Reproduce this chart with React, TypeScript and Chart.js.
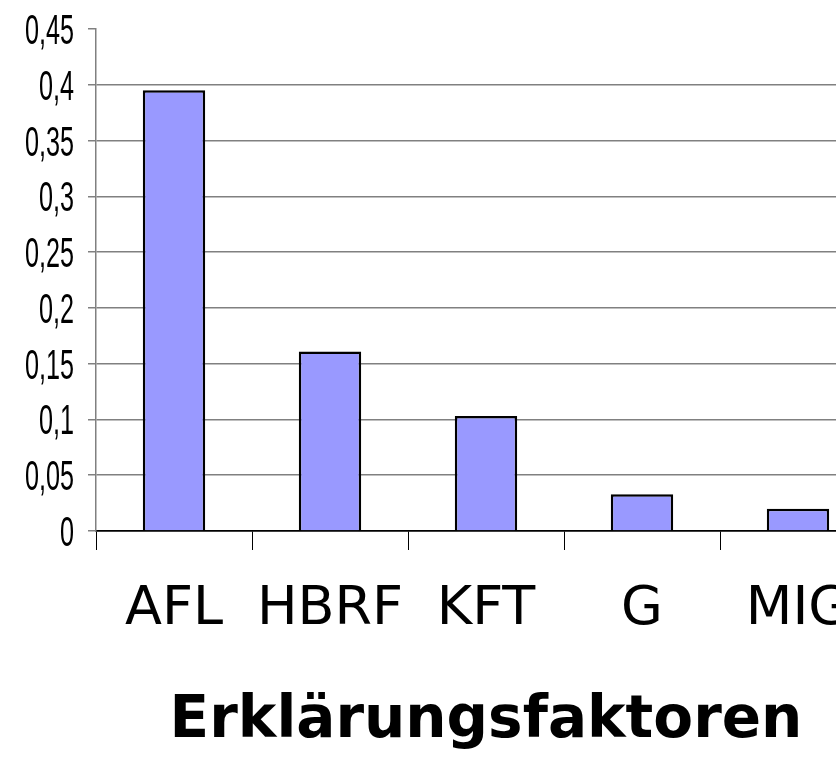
import React, { useEffect, useRef } from "react";
import { Chart, registerables } from "chart.js";

Chart.register(...registerables);

const categories = ["AFL", "HBRF", "KFT", "G", "MIG"];
const values = [0.395, 0.161, 0.103, 0.033, 0.02];
const yTickValues = [0, 0.05, 0.1, 0.15, 0.2, 0.25, 0.3, 0.35, 0.4, 0.45];
const yTickLabels = ["0", "0,05", "0,1", "0,15", "0,2", "0,25", "0,3", "0,35", "0,4", "0,45"];
const xTitle = "Erklärungsfaktoren";

const yLabelPlugin = {
  id: "yLabelPlugin",
  afterDraw(chart: any) {
    const ctx = chart.ctx;
    const y = chart.scales.y;
    ctx.save();
    ctx.fillStyle = "#000";
    ctx.font = "42px 'Liberation Sans', Arial, sans-serif";
    ctx.textAlign = "right";
    ctx.textBaseline = "alphabetic";
    yTickValues.forEach((v, i) => {
      const py = y.getPixelForValue(v);
      ctx.save();
      ctx.translate(74, py + 15);
      ctx.scale(0.6, 1);
      ctx.fillText(yTickLabels[i], 0, 0);
      ctx.restore();
    });
    ctx.restore();
  },
};

export default function App() {
  const ref = useRef<HTMLCanvasElement | null>(null);
  useEffect(() => {
    if (!ref.current) return;
    const chart = new Chart(ref.current, {
      type: "bar",
      data: {
        labels: categories,
        datasets: [
          {
            data: values,
            backgroundColor: "#9999FF",
            borderColor: "#000000",
            borderWidth: 2.5,
            categoryPercentage: 1,
            barPercentage: 0.4,
          },
        ],
      },
      options: {
        responsive: false,
        animation: false,
        devicePixelRatio: 1,
        layout: { padding: { top: 29, right: 24, left: 0, bottom: 0 } },
        plugins: { legend: { display: false }, tooltip: { enabled: false } },
        scales: {
          x: {
            offset: true,
            grid: {
              offset: true,
              drawOnChartArea: false,
              tickLength: 19,
              tickColor: "#000",
              tickWidth: 1,
            },
            border: { color: "#000", width: 1.5 },
            ticks: {
              color: "#000",
              font: { family: "'DejaVu Sans', Verdana, sans-serif", size: 54 },
              padding: 28,
              maxRotation: 0,
              autoSkip: false,
            },
            title: {
              display: true,
              text: xTitle,
              color: "#000",
              font: { family: "'DejaVu Sans', Verdana, sans-serif", size: 58, weight: "bold" },
              padding: { top: 0, bottom: 0 },
            },
            afterFit(scale: any) {
              scale.height = 226;
            },
          },
          y: {
            min: 0,
            max: 0.45,
            ticks: { stepSize: 0.05, display: false },
            grid: {
              color: (c: any) => {
                const v = c.tick ? c.tick.value : 0;
                if (v >= 0.449) return "rgba(0,0,0,0)";
                if (v === 0) return "#000";
                return "#808080";
              },
              tickColor: "#808080",
              tickLength: 8,
              lineWidth: 1.5,
            },
            border: { color: "#808080", width: 1.5 },
            afterFit(scale: any) {
              scale.width = 96;
            },
          },
        },
      },
      plugins: [yLabelPlugin],
    });
    return () => chart.destroy();
  }, []);
  return (
    <div
      style={{
        position: "fixed",
        left: 0,
        top: 0,
        width: 836,
        height: 757,
        overflow: "hidden",
        background: "#fff",
      }}
    >
      <canvas ref={ref} width={900} height={757} style={{ width: 900, height: 757, display: "block" }} />
    </div>
  );
}
